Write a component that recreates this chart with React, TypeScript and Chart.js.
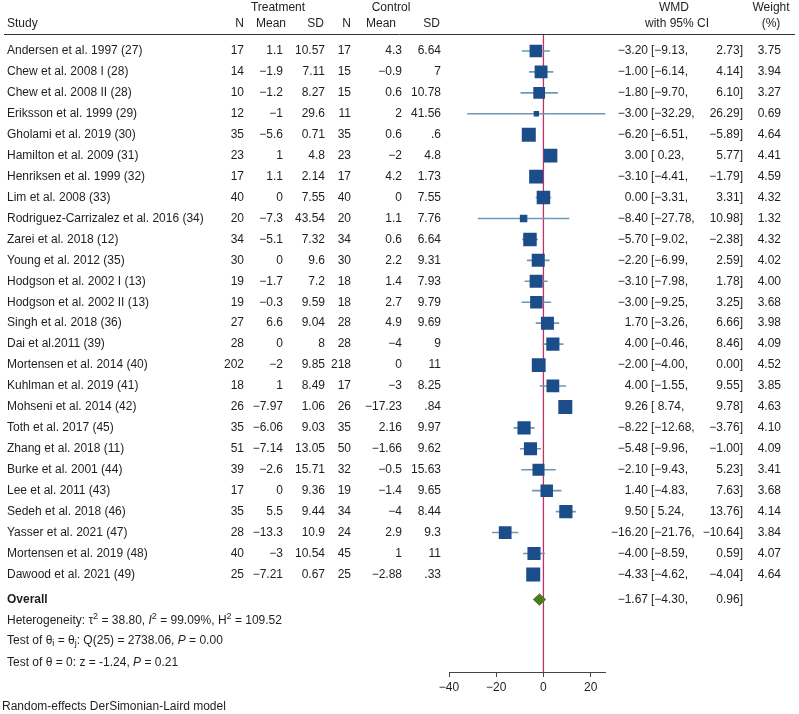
import React, { useEffect, useRef } from 'react';
import { Chart, registerables } from 'chart.js';

Chart.register(...registerables);

const studies = [
  'Andersen et al. 1997 (27)',
  'Chew et al. 2008 I (28)',
  'Chew et al. 2008 II (28)',
  'Eriksson et al. 1999 (29)',
  'Gholami et al. 2019 (30)',
  'Hamilton et al. 2009 (31)',
  'Henriksen et al. 1999 (32)',
  'Lim et al. 2008 (33)',
  'Rodriguez-Carrizalez et al. 2016 (34)',
  'Zarei et al. 2018 (12)',
  'Young et al. 2012 (35)',
  'Hodgson et al. 2002 I (13)',
  'Hodgson et al. 2002 II (13)',
  'Singh et al. 2018 (36)',
  'Dai et al.2011 (39)',
  'Mortensen et al. 2014 (40)',
  'Kuhlman et al. 2019 (41)',
  'Mohseni et al. 2014 (42)',
  'Toth et al. 2017 (45)',
  'Zhang et al. 2018 (11)',
  'Burke et al. 2001 (44)',
  'Lee et al. 2011 (43)',
  'Sedeh et al. 2018 (46)',
  'Yasser et al. 2021 (47)',
  'Mortensen et al. 2019 (48)',
  'Dawood et al. 2021 (49)',
];

const treatN = ['17', '14', '10', '12', '35', '23', '17', '40', '20', '34', '30', '19', '19', '27', '28', '202', '18', '26', '35', '51', '39', '17', '35', '28', '40', '25'];
const treatMean = ['1.1', '−1.9', '−1.2', '−1', '−5.6', '1', '1.1', '0', '−7.3', '−5.1', '0', '−1.7', '−0.3', '6.6', '0', '−2', '1', '−7.97', '−6.06', '−7.14', '−2.6', '0', '5.5', '−13.3', '−3', '−7.21'];
const treatSD = ['10.57', '7.11', '8.27', '29.6', '0.71', '4.8', '2.14', '7.55', '43.54', '7.32', '9.6', '7.2', '9.59', '9.04', '8', '9.85', '8.49', '1.06', '9.03', '13.05', '15.71', '9.36', '9.44', '10.9', '10.54', '0.67'];
const ctrlN = ['17', '15', '15', '11', '35', '23', '17', '40', '20', '34', '30', '18', '18', '28', '28', '218', '17', '26', '35', '50', '32', '19', '34', '24', '45', '25'];
const ctrlMean = ['4.3', '−0.9', '0.6', '2', '0.6', '−2', '4.2', '0', '1.1', '0.6', '2.2', '1.4', '2.7', '4.9', '−4', '0', '−3', '−17.23', '2.16', '−1.66', '−0.5', '−1.4', '−4', '2.9', '1', '−2.88'];
const ctrlSD = ['6.64', '7', '10.78', '41.56', '.6', '4.8', '1.73', '7.55', '7.76', '6.64', '9.31', '7.93', '9.79', '9.69', '9', '11', '8.25', '.84', '9.97', '9.62', '15.63', '9.65', '8.44', '9.3', '11', '.33'];

const wmd = [-3.2, -1.0, -1.8, -3.0, -6.2, 3.0, -3.1, 0.0, -8.4, -5.7, -2.2, -3.1, -3.0, 1.7, 4.0, -2.0, 4.0, 9.26, -8.22, -5.48, -2.1, 1.4, 9.5, -16.2, -4.0, -4.33];
const ciLow = [-9.13, -6.14, -9.7, -32.29, -6.51, 0.23, -4.41, -3.31, -27.78, -9.02, -6.99, -7.98, -9.25, -3.26, -0.46, -4.0, -1.55, 8.74, -12.68, -9.96, -9.43, -4.83, 5.24, -21.76, -8.59, -4.62];
const ciHigh = [2.73, 4.14, 6.1, 26.29, -5.89, 5.77, -1.79, 3.31, 10.98, -2.38, 2.59, 1.78, 3.25, 6.66, 8.46, 0.0, 9.55, 9.78, -3.76, -1.0, 5.23, 7.63, 13.76, -10.64, 0.59, -4.04];
const weights = [3.75, 3.94, 3.27, 0.69, 4.64, 4.41, 4.59, 4.32, 1.32, 4.32, 4.02, 4.0, 3.68, 3.98, 4.09, 4.52, 3.85, 4.63, 4.1, 4.09, 3.41, 3.68, 4.14, 3.84, 4.07, 4.64];

const overallEst = -1.67;
const overallLow = -4.3;
const overallHigh = 0.96;

const xTicks = [-40, -20, 0, 20];
const xMin = -40;
const xMax = 26.29;

const FAMILY = '"Liberation Sans", Arial, sans-serif';
const TEXT = '#1e1e1e';
const SQUARE = '#1b4d8b';
const CILINE = '#6f97b4';
const REFLINE = '#c2306c';
const DIAMOND = '#4a7d1e';

const OVERALL_ROW = 26.2;
const HET_ROW = 27.2;
const TEST1_ROW = 28.17;
const TEST2_ROW = 29.2;

const minus = (s: string) => s.replace(/-/g, '−');
const fmt = (v: number) => minus(v.toFixed(2));
const fmtLow = (v: number) => (v < 0 ? fmt(v) : ' ' + fmt(v));

type Seg = { t: string; italic?: boolean; bold?: boolean; sup?: boolean; sub?: boolean };

function drawRich(ctx: CanvasRenderingContext2D, x: number, y: number, segs: Seg[]) {
  let cx = x;
  ctx.textAlign = 'left';
  for (const s of segs) {
    const size = s.sup || s.sub ? 9 : 12;
    ctx.font = `${s.italic ? 'italic ' : ''}${s.bold ? 'bold ' : ''}${size}px ${FAMILY}`;
    const dy = s.sup ? -4 : s.sub ? 3 : 0;
    ctx.fillText(s.t, cx, y + dy);
    cx += ctx.measureText(s.t).width;
  }
}

const tablePlugin = {
  id: 'forestTable',
  afterDraw(chart: any) {
    const ctx: CanvasRenderingContext2D = chart.ctx;
    const ys = chart.scales.y;
    const rowY = (i: number) => ys.getPixelForValue(i);
    ctx.save();
    ctx.fillStyle = TEXT;
    ctx.textBaseline = 'middle';
    ctx.font = `12px ${FAMILY}`;

    const txt = (s: string, x: number, y: number, align: CanvasTextAlign) => {
      ctx.textAlign = align;
      ctx.fillText(s, x, y);
    };

    // header
    const h1 = 8;
    const h2 = 24;
    txt('Treatment', 278, h1, 'center');
    txt('Control', 391, h1, 'center');
    txt('WMD', 674, h1, 'center');
    txt('Weight', 771, h1, 'center');
    txt('Study', 7, h2, 'left');
    txt('N', 244, h2, 'right');
    txt('Mean', 286, h2, 'right');
    txt('SD', 324, h2, 'right');
    txt('N', 351, h2, 'right');
    txt('Mean', 396, h2, 'right');
    txt('SD', 440, h2, 'right');
    txt('with 95% CI', 677, h2, 'center');
    txt('(%)', 771, h2, 'center');

    ctx.strokeStyle = '#333';
    ctx.lineWidth = 1;
    ctx.beginPath();
    ctx.moveTo(4, 34.5);
    ctx.lineTo(795, 34.5);
    ctx.stroke();

    for (let i = 0; i < studies.length; i++) {
      const y = rowY(i);
      txt(studies[i], 7, y, 'left');
      txt(treatN[i], 244, y, 'right');
      txt(treatMean[i], 283, y, 'right');
      txt(treatSD[i], 325, y, 'right');
      txt(ctrlN[i], 351, y, 'right');
      txt(ctrlMean[i], 402, y, 'right');
      txt(ctrlSD[i], 441, y, 'right');
      txt(fmt(wmd[i]), 648, y, 'right');
      txt('[' + fmtLow(ciLow[i]) + ',', 651, y, 'left');
      txt(fmt(ciHigh[i]) + ']', 743, y, 'right');
      txt(weights[i].toFixed(2), 781, y, 'right');
    }

    const oy = rowY(OVERALL_ROW);
    ctx.font = `bold 12px ${FAMILY}`;
    txt('Overall', 7, oy, 'left');
    ctx.font = `12px ${FAMILY}`;
    txt(fmt(overallEst), 648, oy, 'right');
    txt('[' + fmtLow(overallLow) + ',', 651, oy, 'left');
    txt(fmt(overallHigh) + ']', 743, oy, 'right');

    drawRich(ctx, 7, rowY(HET_ROW), [
      { t: 'Heterogeneity: τ' },
      { t: '2', sup: true },
      { t: ' = 38.80, ' },
      { t: 'I', italic: true },
      { t: '2', sup: true },
      { t: ' = 99.09%, H' },
      { t: '2', sup: true },
      { t: ' = 109.52' },
    ]);
    drawRich(ctx, 7, rowY(TEST1_ROW), [
      { t: 'Test of θ' },
      { t: 'i', sub: true },
      { t: ' = θ' },
      { t: 'j', sub: true },
      { t: ': Q(25) = 2738.06, ' },
      { t: 'P', italic: true },
      { t: ' = 0.00' },
    ]);
    drawRich(ctx, 7, rowY(TEST2_ROW), [
      { t: 'Test of θ = 0: z = -1.24, ' },
      { t: 'P', italic: true },
      { t: ' = 0.21' },
    ]);
    ctx.font = `12px ${FAMILY}`;
    txt('Random-effects DerSimonian-Laird model', 2, 707, 'left');
    ctx.restore();
  },
};

export default function App() {
  const ref = useRef<HTMLCanvasElement | null>(null);

  useEffect(() => {
    if (!ref.current) return;
    const yMin = -0.81;
    const yMax = 29.66;

    const ciSets = studies.map((_, i) => ({
      type: 'line' as const,
      data: [
        { x: ciLow[i], y: i },
        { x: ciHigh[i], y: i },
      ],
      borderColor: CILINE,
      borderWidth: 1.6,
      pointRadius: 0,
      fill: false,
      order: 3,
    }));

    const datasets: any[] = [
      {
        type: 'line',
        data: [
          { x: 0, y: yMin },
          { x: 0, y: yMax },
        ],
        borderColor: REFLINE,
        borderWidth: 1.3,
        pointRadius: 0,
        fill: false,
        order: 4,
      },
      ...ciSets,
      {
        type: 'line',
        showLine: false,
        data: wmd.map((v, i) => ({ x: v, y: i })),
        pointStyle: 'rect',
        pointRadius: weights.map((w) => (6.5 * Math.sqrt(w)) / Math.SQRT2),
        backgroundColor: SQUARE,
        borderColor: SQUARE,
        borderWidth: 0,
        order: 1,
      },
      {
        type: 'line',
        data: [
          { x: overallLow, y: OVERALL_ROW },
          { x: overallEst, y: OVERALL_ROW - 0.27 },
          { x: overallHigh, y: OVERALL_ROW },
          { x: overallEst, y: OVERALL_ROW + 0.27 },
          { x: overallLow, y: OVERALL_ROW },
        ],
        borderColor: DIAMOND,
        backgroundColor: DIAMOND,
        borderWidth: 1,
        pointRadius: 0,
        tension: 0,
        fill: 'shape',
        order: 0,
      },
    ];

    const chart = new Chart(ref.current, {
      type: 'line',
      data: { datasets },
      options: {
        animation: false,
        responsive: false,
        events: [],
        layout: { padding: { left: 449, right: 193.5, top: 34, bottom: 16.6 } },
        plugins: {
          legend: { display: false },
          tooltip: { enabled: false },
        },
        scales: {
          x: {
            type: 'linear',
            min: xMin,
            max: xMax,
            afterBuildTicks: (scale: any) => {
              scale.ticks = xTicks.map((v) => ({ value: v }));
            },
            ticks: {
              color: TEXT,
              font: { family: FAMILY, size: 12 },
              padding: 3,
              autoSkip: false,
              maxRotation: 0,
              callback: (v: any) => minus(String(v)),
            },
            grid: {
              display: true,
              drawOnChartArea: false,
              drawTicks: true,
              tickLength: 5,
              color: '#444',
            },
            border: { display: true, color: '#444', width: 1 },
          },
          y: {
            type: 'linear',
            display: false,
            min: yMin,
            max: yMax,
            reverse: true,
          },
        },
      },
      plugins: [tablePlugin],
    } as any);

    return () => chart.destroy();
  }, []);

  return (
    <div style={{ position: 'absolute', left: 0, top: 0, width: 799, height: 714, background: '#fff' }}>
      <canvas ref={ref} width={799} height={714} style={{ display: 'block' }} />
    </div>
  );
}
